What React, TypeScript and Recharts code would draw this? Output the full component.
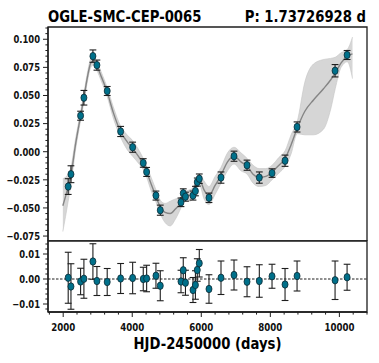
import { ComposedChart, Scatter, Line, Area, XAxis, YAxis, ErrorBar, ReferenceLine, ReferenceArea } from 'recharts'

const FONT = "'DejaVu Sans', sans-serif"
const SQUEEZE = 0.8
const INK = '#1e1e1e'
const TEAL = '#00708a'

// observed light-curve points (HJD-2450000, value, error)
const obsDays = [2145, 2225, 2504, 2600, 2861, 2977, 3275, 3664, 4012, 4319, 4417, 4687, 4812, 5412, 5478, 5542, 5760, 5830, 5884, 5942, 6223, 6571, 6948, 7325, 7681, 8049, 8426, 8774, 9875, 10223]
const obsMag = [-0.031, -0.020, 0.032, 0.048, 0.085, 0.077, 0.054, 0.018, 0.004, -0.010, -0.018, -0.039, -0.052, -0.045, -0.037, -0.040, -0.039, -0.035, -0.027, -0.024, -0.041, -0.023, -0.004, -0.012, -0.023, -0.019, -0.008, 0.022, 0.072, 0.086]
const obsErr = [0.007, 0.0075, 0.004, 0.0065, 0.0055, 0.0045, 0.004, 0.0045, 0.0045, 0.0038, 0.004, 0.004, 0.0045, 0.0038, 0.004, 0.004, 0.004, 0.0042, 0.0036, 0.0042, 0.0042, 0.005, 0.0045, 0.0045, 0.005, 0.0038, 0.005, 0.0045, 0.0055, 0.004]

// residuals
const resMag = [0.0005, -0.003, -0.001, 0.0001, 0.007, -0.0008, -0.0012, 0.0002, 0.0004, 0.0, 0.0002, 0.0013, -0.0027, -0.001, 0.0035, -0.0015, -0.0044, -0.0024, 0.0036, 0.0063, -0.004, 0.0005, 0.0016, -0.0011, -0.0008, 0.0011, -0.0022, 0.0012, -0.0005, 0.0007]
const resErr = [0.0102, 0.0091, 0.0053, 0.0078, 0.0071, 0.0058, 0.0054, 0.006, 0.0063, 0.0047, 0.0053, 0.005, 0.006, 0.0045, 0.005, 0.005, 0.005, 0.0057, 0.0045, 0.0055, 0.0057, 0.0067, 0.006, 0.006, 0.0065, 0.0048, 0.0064, 0.006, 0.0077, 0.0052]

// model curve and its band
const modelDays = [1990, 2145, 2230, 2350, 2500, 2600, 2700, 2800, 2870, 2980, 3100, 3275, 3450, 3660, 3850, 4010, 4200, 4320, 4420, 4550, 4690, 4810, 4950, 5100, 5250, 5410, 5480, 5545, 5650, 5760, 5830, 5890, 5950, 6080, 6220, 6400, 6570, 6760, 6950, 7150, 7330, 7500, 7680, 7870, 8050, 8250, 8430, 8600, 8780, 9000, 9250, 9540, 9750, 9880, 10050, 10230, 10380]
const modelMean = [-0.048, -0.031, -0.020, 0.005, 0.031, 0.048, 0.066, 0.079, 0.081, 0.076, 0.067, 0.053, 0.035, 0.018, 0.009, 0.003, -0.005, -0.011, -0.018, -0.029, -0.040, -0.049, -0.054, -0.055, -0.051, -0.045, -0.040, -0.039, -0.039, -0.037, -0.031, -0.026, -0.025, -0.034, -0.039, -0.030, -0.021, -0.009, -0.004, -0.009, -0.013, -0.020, -0.023, -0.022, -0.018, -0.012, -0.006, 0.006, 0.021, 0.036, 0.046, 0.056, 0.064, 0.070, 0.079, 0.085, 0.087]
const modelLow = [-0.071, -0.044, -0.028, 0.000, 0.027, 0.044, 0.062, 0.075, 0.077, 0.072, 0.063, 0.049, 0.030, 0.013, 0.002, -0.004, -0.011, -0.016, -0.023, -0.035, -0.045, -0.055, -0.063, -0.066, -0.060, -0.050, -0.045, -0.043, -0.044, -0.042, -0.036, -0.031, -0.030, -0.042, -0.047, -0.038, -0.028, -0.017, -0.011, -0.017, -0.020, -0.028, -0.031, -0.030, -0.025, -0.019, -0.013, -0.002, 0.016, 0.015, 0.015, 0.020, 0.038, 0.056, 0.075, 0.080, 0.065]
const modelHigh = [-0.024, -0.020, -0.013, 0.010, 0.035, 0.052, 0.070, 0.083, 0.085, 0.080, 0.071, 0.057, 0.040, 0.023, 0.015, 0.010, 0.001, -0.006, -0.013, -0.023, -0.034, -0.043, -0.046, -0.044, -0.042, -0.040, -0.036, -0.035, -0.034, -0.032, -0.026, -0.021, -0.020, -0.026, -0.031, -0.022, -0.014, -0.001, 0.004, -0.001, -0.006, -0.012, -0.015, -0.015, -0.012, -0.005, 0.001, 0.015, 0.027, 0.062, 0.078, 0.082, 0.083, 0.084, 0.088, 0.091, 0.102]

// ticks
const xMajor = [2000, 4000, 6000, 8000, 10000]
const xTicks = [1600, 2000, 2400, 2800, 3200, 3600, 4000, 4400, 4800, 5200, 5600, 6000, 6400, 6800, 7200, 7600, 8000, 8400, 8800, 9200, 9600, 10000, 10400, 10800]
const mainMajor = [-0.075, -0.05, -0.025, 0, 0.025, 0.05, 0.075, 0.1]
const resMajor = [-0.01, 0, 0.01]

const X_DOMAIN = [1560, 10800]
const MAIN_DOMAIN = [-0.0794, 0.1109]
const RES_DOMAIN = [-0.0132, 0.0152]

const steps = (from: number, to: number, step: number) => {
  const out: number[] = []
  for (let v = from; v <= to + 1e-9; v += step) out.push(Math.round(v * 1e6) / 1e6)
  return out
}
const mainTicks = steps(-0.075, 0.11, 0.005)
const resTicks = steps(-0.012, 0.014, 0.002)

const fmt = (d: number) => (v: number) => {
  const s = (Math.abs(v) < 1e-9 ? 0 : v).toFixed(d)
  return s.replace('-', '\u2212')
}

const model = modelDays.map((day, i) => ({ day, mean: modelMean[i], range: [modelLow[i], modelHigh[i]] }))
const obs = obsDays.map((day, i) => ({ day, mag: obsMag[i], err: obsErr[i] }))
const resid = obsDays.map((day, i) => ({ day, res: resMag[i], err: resErr[i] }))

const makeTick = (side: string, majors: number[], label?: (v: number) => string) => (props: any) => {
  const { x, y, payload } = props
  const v = payload.value
  const major = majors.some((m) => Math.abs(m - v) < 1e-7)
  const len = major ? 5 : 2.6
  let x2 = x
  let y2 = y
  if (side === 'left') x2 = x - len
  if (side === 'right') x2 = x + len
  if (side === 'top') y2 = y - len
  if (side === 'bottom') y2 = y + len
  const text = major && label ? label(v) : null
  return (
    <g>
      <line x1={x} y1={y} x2={x2} y2={y2} stroke={INK} strokeWidth={1} />
      {text && side === 'left' && (
        <text transform={`translate(${x - 8},${y + 3.8}) scale(${SQUEEZE},1)`} textAnchor="end" fontFamily={FONT} fontWeight="bold" fontSize={10.5} fill="#111">
          {text}
        </text>
      )}
      {text && side === 'bottom' && (
        <text transform={`translate(${x},${y + 19}) scale(${SQUEEZE},1)`} textAnchor="middle" fontFamily={FONT} fontWeight="bold" fontSize={10.8} fill="#111">
          {text}
        </text>
      )}
    </g>
  )
}

const Dot = (props: any) => (
  <ellipse cx={props.cx} cy={props.cy} rx={3} ry={3.7} fill={TEAL} stroke="#0d2a33" strokeWidth={0.8} />
)

const axisLine = { stroke: INK, strokeWidth: 1.3 }

export default function App() {
  return (
    <div style={{ position: 'absolute', left: 0, top: 0, width: 379, height: 363, background: '#fff' }}>
      <div style={{ position: 'absolute', left: 0, top: 0 }}>
        <ComposedChart width={379} height={241} data={model} margin={{ top: 27, right: 12, bottom: 0, left: 0 }}>
          <XAxis xAxisId="t" orientation="top" dataKey="day" type="number" domain={X_DOMAIN} allowDataOverflow ticks={xTicks} interval={0} height={0} tickSize={0} tickMargin={0} tickLine={false} axisLine={axisLine} tick={makeTick('top', xMajor)} />
          <YAxis yAxisId="l" type="number" domain={MAIN_DOMAIN} allowDataOverflow ticks={mainTicks} interval={0} width={48} tickSize={0} tickMargin={0} tickLine={false} axisLine={axisLine} tick={makeTick('left', mainMajor, fmt(3))} />
          <YAxis yAxisId="r" orientation="right" type="number" domain={MAIN_DOMAIN} allowDataOverflow ticks={mainTicks} interval={0} width={0} tickSize={0} tickMargin={0} tickLine={false} axisLine={axisLine} tick={makeTick('right', mainMajor)} />
          <Area xAxisId="t" yAxisId="l" type="monotone" dataKey="range" fill="#d6d6d6" fillOpacity={1} stroke="#c4c4c4" strokeWidth={0.6} isAnimationActive={false} />
          <Line xAxisId="t" yAxisId="l" type="monotone" dataKey="mean" stroke="#858585" strokeWidth={1.4} dot={false} isAnimationActive={false} />
          <Scatter xAxisId="t" yAxisId="l" data={obs} dataKey="mag" shape={Dot} isAnimationActive={false}>
            <ErrorBar dataKey="err" direction="y" width={3.4} stroke={INK} strokeWidth={1.1} />
          </Scatter>
          <ReferenceArea xAxisId="t" yAxisId="l" x1={X_DOMAIN[0]} x2={X_DOMAIN[1]} y1={MAIN_DOMAIN[0]} y2={MAIN_DOMAIN[1]} fill="none" fillOpacity={0} stroke={INK} strokeWidth={1.3} ifOverflow="visible" />
        </ComposedChart>
      </div>
      <div style={{ position: 'absolute', left: 0, top: 235 }}>
        <ComposedChart width={379} height={128} margin={{ top: 6, right: 12, bottom: 0, left: 0 }}>
          <XAxis xAxisId="b" orientation="bottom" dataKey="day" type="number" domain={X_DOMAIN} allowDataOverflow ticks={xTicks} interval={0} height={51} tickSize={0} tickMargin={0} tickLine={false} axisLine={axisLine} tick={makeTick('bottom', xMajor, fmt(0))} />
          <XAxis xAxisId="t" orientation="top" dataKey="day" type="number" domain={X_DOMAIN} allowDataOverflow ticks={xTicks} interval={0} height={0} tickSize={0} tickMargin={0} tickLine={false} axisLine={axisLine} tick={makeTick('top', xMajor)} />
          <YAxis yAxisId="l" type="number" domain={RES_DOMAIN} allowDataOverflow ticks={resTicks} interval={0} width={48} tickSize={0} tickMargin={0} tickLine={false} axisLine={axisLine} tick={makeTick('left', resMajor, fmt(2))} />
          <YAxis yAxisId="r" orientation="right" type="number" domain={RES_DOMAIN} allowDataOverflow ticks={resTicks} interval={0} width={0} tickSize={0} tickMargin={0} tickLine={false} axisLine={axisLine} tick={makeTick('right', resMajor)} />
          <ReferenceLine xAxisId="b" yAxisId="l" y={0} stroke={INK} strokeWidth={1} strokeDasharray="2.5 1.5" />
          <Scatter xAxisId="b" yAxisId="l" data={resid} dataKey="res" shape={Dot} isAnimationActive={false}>
            <ErrorBar dataKey="err" direction="y" width={3.4} stroke={INK} strokeWidth={1.1} />
          </Scatter>
          <ReferenceArea xAxisId="b" yAxisId="l" x1={X_DOMAIN[0]} x2={X_DOMAIN[1]} y1={RES_DOMAIN[0]} y2={RES_DOMAIN[1]} fill="none" fillOpacity={0} stroke={INK} strokeWidth={1.3} ifOverflow="visible" />
        </ComposedChart>
      </div>
      <svg width={379} height={363} style={{ position: 'absolute', left: 0, top: 0, pointerEvents: 'none' }}>
        <text transform={`translate(48,21.5) scale(${SQUEEZE},1)`} fontFamily={FONT} fontWeight="bold" fontSize={16.5} fill="#000">
          OGLE-SMC-CEP-0065
        </text>
        <text transform={`translate(366,21.5) scale(${SQUEEZE},1)`} textAnchor="end" fontFamily={FONT} fontWeight="bold" fontSize={16.5} fill="#000">
          P: 1.73726928 d
        </text>
        <text transform={`translate(207.5,349) scale(${SQUEEZE},1)`} textAnchor="middle" fontFamily={FONT} fontWeight="bold" fontSize={16.5} fill="#000">
          HJD-2450000 (days)
        </text>
      </svg>
    </div>
  )
}
